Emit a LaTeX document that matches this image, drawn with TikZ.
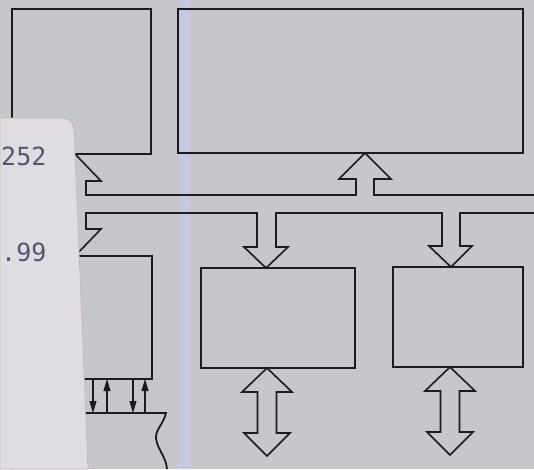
\documentclass[tikz,border=0pt]{standalone}
\usepackage{fontspec}
\newfontfamily\stampfont{DejaVu Sans Mono}
\usetikzlibrary{arrows.meta,calc}
\definecolor{scanbg}{HTML}{C6C7CB}
\definecolor{paperbg}{HTML}{DFDDE1}
\definecolor{paperedge}{HTML}{C8B4B2}
\definecolor{inkline}{HTML}{1A1A1F}
\definecolor{stampink}{HTML}{55556E}
\definecolor{scanstripe}{HTML}{C4C9E6}

\begin{document}
\begin{tikzpicture}[x=1pt,y=-1pt,
  box/.style={draw=inkline,line width=1.8pt,inner sep=0pt,outer sep=0pt},
  hollow/.style={draw=inkline,line width=1.6pt,line join=miter},
  sig/.style={-{Triangle[length=12pt,width=7pt]},draw=inkline,line width=1.1pt},
  stamp/.style={anchor=west,text=stampink,inner sep=0pt,font=\stampfont\fontsize{25}{25}\selectfont},
  dblarrow/.pic={\draw[hollow] (0,0) -- (25,24) -- (9.5,24) -- (9.5,65) -- (23,65) -- (0,88)
     -- (-23,65) -- (-9.5,65) -- (-9.5,24) -- (-25,24) -- cycle;}
]
\useasboundingbox (0,0) rectangle (534,469);
\fill[scanbg] (0,0) rectangle (534,469);
\fill[scanstripe,opacity=.85] (179,0) rectangle (191,469);

% blocks
\node[box,minimum width=139pt,minimum height=145pt] (cpu) at (81.5,81.5) {};
\node[box,minimum width=345pt,minimum height=144pt] (mem) at (350.5,81) {};
\node[box,minimum width=140pt,minimum height=123pt] (ctl) at (82,317.5) {};
\node[box,minimum width=154pt,minimum height=100pt] (io1) at (278,318) {};
\node[box,minimum width=130pt,minimum height=100pt] (io2) at (458,317) {};
\coordinate (ram) at (12,413);

% bus, upper line
\draw[hollow] (64,195) -- (64,181) -- (49,181) -- ($(cpu.south)+(-6.5,0)$) -- (101,181) -- (86,181)
  -- (86,195) -- (356,195) -- (356,179) -- (339,179) -- ($(mem.south)+(14.5,0)$) -- (391,179)
  -- (374,179) -- (374,195) -- (534,195);
% bus, lower line
\draw[hollow] (534,213) -- (460,213) -- (460,246) -- (472,246) -- ($(io2.north)+(-7,0)$)
  -- (429,246) -- (442,246) -- (442,213) -- (276,213) -- (276,247) -- (288,247)
  -- ($(io1.north)+(-12,0)$) -- (244,247) -- (257,247) -- (257,213) -- (86,213) -- (86,229)
  -- (101,229) -- ($(ctl.north)+(-7,0)$) -- (49,229) -- (64,229) -- (64,213);

% external ports
\pic at ($(io1.south)+(-11,0)$) {dblarrow};
\pic at ($(io2.south)+(-8,0)$) {dblarrow};

% cut-off block below ctl
\draw[box] (12,469) -- (ram) -- (166,413) .. controls (162,428) and (153,430) .. (157,443)
  .. controls (160,452) and (166,458) .. (167,469);
\foreach \dx in {81,121}
  \draw[sig] ($(ctl.south west)+(\dx,0)$) -- ($(ram)+(\dx,0)$);
\foreach \dx in {95,133}
  \draw[sig] ($(ram)+(\dx,0)$) -- ($(ctl.south west)+(\dx,0)$);

% paper slip over the left side
\filldraw[fill=paperbg,draw=paperedge,line width=.6pt] (0,118) -- (62,118)
  .. controls (69,118) and (74,123) .. (74,130) -- (88,469) -- (0,469) -- cycle;
\node[stamp] (num1) at (1,156) {252};
\node[stamp] (num2) at (1,252) {.99};
\end{tikzpicture}
\end{document}
